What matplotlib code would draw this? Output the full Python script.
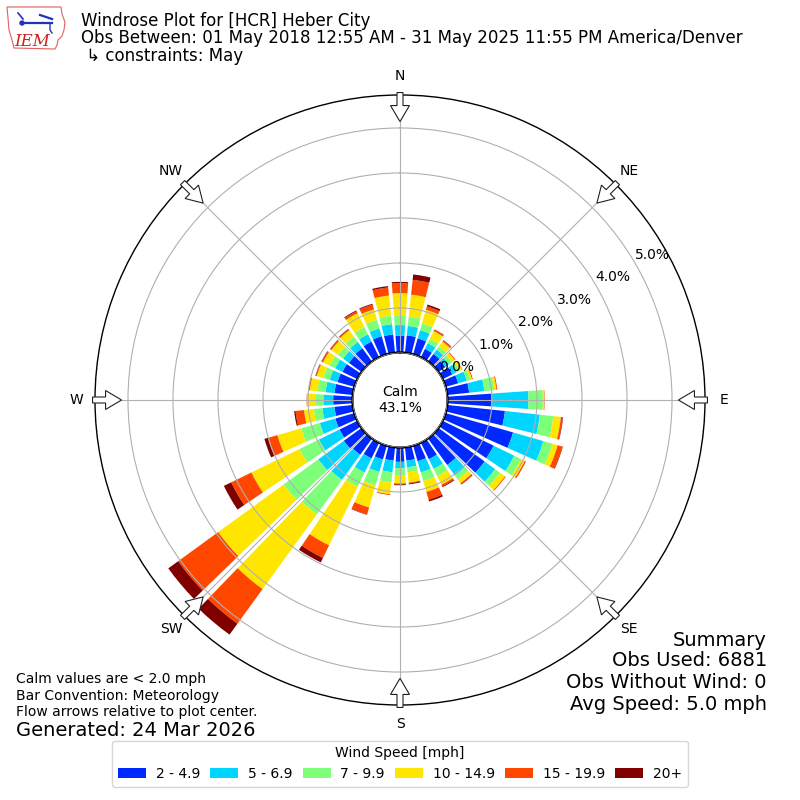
import numpy as np
import matplotlib
matplotlib.use("Agg")
import matplotlib.pyplot as plt
from matplotlib.patches import Circle, FancyArrow, Polygon, Patch
from matplotlib.lines import Line2D

# ---------------- data ----------------
directions = np.arange(0, 360, 10)  # degrees, meteorological convention
speed_bins = ["2 - 4.9", "5 - 6.9", "7 - 9.9", "10 - 14.9", "15 - 19.9", "20+"]

# frequency (%) of each speed bin per direction
pct_2_5 = [0.38, 0.40, 0.38, 0.22, 0.22, 0.20, 0.25, 0.30, 0.50, 0.98, 1.30, 1.57,
           1.27, 1.28, 0.74, 0.42, 0.37, 0.31, 0.33, 0.31, 0.33, 0.40, 0.46, 0.50,
           0.45, 0.45, 0.42, 0.44, 0.42, 0.40, 0.38, 0.36, 0.38, 0.40, 0.43, 0.42]
pct_5_7 = [0.24, 0.21, 0.19, 0.14, 0.12, 0.10, 0.11, 0.20, 0.34, 0.83, 0.78, 0.70,
           0.51, 0.29, 0.29, 0.24, 0.26, 0.15, 0.14, 0.26, 0.29, 0.35, 0.69, 0.70,
           0.51, 0.36, 0.27, 0.22, 0.20, 0.18, 0.18, 0.16, 0.17, 0.18, 0.18, 0.23]
pct_7_10 = [0.22, 0.21, 0.16, 0.11, 0.09, 0.08, 0.07, 0.08, 0.22, 0.32, 0.30, 0.21,
            0.17, 0.14, 0.11, 0.18, 0.20, 0.11, 0.17, 0.23, 0.31, 0.35, 0.95, 0.95,
            0.48, 0.43, 0.19, 0.18, 0.18, 0.15, 0.14, 0.14, 0.15, 0.18, 0.20, 0.19]
pct_10_15 = [0.49, 0.49, 0.31, 0.19, 0.13, 0.08, 0.06, 0.04, 0.05, 0.03, 0.17, 0.12,
             0.09, 0.13, 0.10, 0.21, 0.25, 0.23, 0.17, 0.26, 0.51, 1.45, 2.05, 1.80,
             1.19, 0.55, 0.22, 0.18, 0.17, 0.15, 0.16, 0.18, 0.17, 0.34, 0.24, 0.45]
pct_15_20 = [0.22, 0.33, 0.08, 0.03, 0.03, 0.02, 0.01, 0.02, 0.02, 0.01, 0.04, 0.11,
             0.03, 0.02, 0.03, 0.04, 0.18, 0.02, 0.02, 0.02, 0.16, 0.31, 0.95, 1.10,
             0.50, 0.22, 0.19, 0.01, 0.02, 0.02, 0.03, 0.03, 0.03, 0.05, 0.11, 0.18]
pct_20_up = [0.03, 0.12, 0.04, 0.01, 0.01, 0.00, 0.00, 0.00, 0.00, 0.00, 0.01, 0.01,
             0.00, 0.00, 0.01, 0.02, 0.04, 0.02, 0.02, 0.00, 0.01, 0.11, 0.30, 0.27,
             0.18, 0.08, 0.03, 0.00, 0.01, 0.01, 0.01, 0.01, 0.01, 0.02, 0.02, 0.03]
series = [pct_2_5, pct_5_7, pct_7_10, pct_10_15, pct_15_20, pct_20_up]

calm_pct = 43.1
ring_values = [0, 1, 2, 3, 4, 5]
compass_labels = ["N", "NE", "E", "SE", "S", "SW", "W", "NW"]
compass_angles = np.arange(0, 360, 45)

title_lines = [
    "Windrose Plot for [HCR] Heber City",
    "Obs Between: 01 May 2018 12:55 AM - 31 May 2025 11:55 PM America/Denver",
    " \u21b3 constraints: May",
]
notes = ["Calm values are < 2.0 mph", "Bar Convention: Meteorology",
         "Flow arrows relative to plot center."]
generated = "Generated: 24 Mar 2026"
summary = ["Summary", "Obs Used: 6881", "Obs Without Wind: 0", "Avg Speed: 5.0 mph"]

# ---------------- figure ----------------
W = H = 800
fig = plt.figure(figsize=(8, 8), dpi=100)


def fx(px):
    return px / W


def fy(py):
    return 1 - py / H


ax = fig.add_axes([0.11875, 0.11875, 0.7625, 0.7625], projection="polar")
ax.set_theta_zero_location("N")
ax.set_theta_direction(-1)
R0 = 47.0 / 45.0
RMAX = 5.733
ax.set_ylim(0, RMAX)
ax.set_rorigin(-R0)

colors = plt.cm.jet(np.linspace(0, 1, 7)[1:])
theta = np.deg2rad(directions)
width = np.deg2rad(10) * 0.8
bottom = np.zeros(len(directions))
for vals, col in zip(series, colors):
    vals = np.asarray(vals)
    ax.bar(theta, vals, width=width, bottom=bottom, color=col, linewidth=0,
           align="center", zorder=1)
    bottom = bottom + vals

ax.set_xticks(np.deg2rad(compass_angles))
ax.set_xticklabels([])
ax.set_yticks(ring_values)
ax.set_yticklabels([])
ax.tick_params(length=0)
ax.grid(True, color="#b0b0b0", linewidth=0.8)
ax.spines["polar"].set_linewidth(1.0)
try:
    ax.spines["inner"].set_visible(False)
except Exception:
    pass

# radial labels
for v in ring_values:
    ax.text(np.deg2rad(60), v + 0.42, f"{v:.1f}%", ha="center", va="center",
            fontsize=10, zorder=10)

# calm circle
ax.add_patch(Circle((0.5, 0.5), 48.0 / 610.0, transform=ax.transAxes,
                    facecolor="white", edgecolor="black", linewidth=1.0, zorder=5))
ax.text(0.5, 0.5, f"Calm\n{calm_pct:.1f}%", transform=ax.transAxes,
        ha="center", va="center", fontsize=10, zorder=6)

# compass labels and flow arrows
for lab, ang in zip(compass_labels, compass_angles):
    a = np.deg2rad(ang)
    s, c = np.sin(a), np.cos(a)
    ax.text(0.5 + 0.5 * 1.062 * s, 0.5 + 0.5 * 1.062 * c, lab, transform=ax.transAxes,
            ha="center", va="center", fontsize=10)
    r_tail = 0.5 * 1.008
    length = 29.0 / 610.0
    arr = FancyArrow(0.5 + r_tail * s, 0.5 + r_tail * c, -length * s, -length * c,
                     width=6.0 / 610.0, head_width=19.0 / 610.0,
                     head_length=16.0 / 610.0, length_includes_head=True,
                     transform=ax.transAxes, facecolor="white", edgecolor="#222222",
                     linewidth=0.8, clip_on=False, zorder=8)
    ax.add_patch(arr)

# titles
for i, (line, ypx) in enumerate(zip(title_lines, [26, 43, 61])):
    fig.text(fx(81), fy(ypx), line, fontsize=12, ha="left", va="baseline")

# IEM logo (approximation)
iowa = [(7, 7), (61, 7), (62, 14), (65, 22), (64, 30), (62, 36), (58, 40),
        (57, 45), (55, 49), (14, 48), (12, 40), (9, 30), (8, 18)]
fig.add_artist(Polygon([(fx(x), fy(y)) for x, y in iowa], closed=True,
                       transform=fig.transFigure, fill=False,
                       edgecolor="#e06060", linewidth=0.8))
fig.add_artist(Line2D([fx(22), fx(52)], [fy(23), fy(23)], transform=fig.transFigure,
                      color="#2233bb", linewidth=1.6))
fig.add_artist(Line2D([fx(18), fx(23)], [fy(13), fy(19)], transform=fig.transFigure,
                      color="#2233bb", linewidth=1.2))
fig.add_artist(Line2D([fx(40), fx(52)], [fy(15), fy(19)], transform=fig.transFigure,
                      color="#2233bb", linewidth=1.6))
fig.add_artist(Line2D([fx(50), fx(50), fx(52)], [fy(23), fy(30), fy(33)],
                      transform=fig.transFigure, color="#2233bb", linewidth=1.0))
fig.add_artist(Circle((fx(22), fy(23)), 2.0 / W, transform=fig.transFigure,
                      color="#2233bb"))
fig.text(fx(14), fy(46), "IEM", fontsize=12, color="#d02020", style="italic",
         family="DejaVu Serif", ha="left", va="baseline")

# notes (bottom-left)
for line, ypx in zip(notes, [679, 696, 712]):
    fig.text(fx(16), fy(ypx), line, fontsize=10, ha="left", va="center")
fig.text(fx(16), fy(730), generated, fontsize=14, ha="left", va="center")

# summary (bottom-right)
for line, ypx in zip(summary, [640, 661, 683, 705]):
    fig.text(fx(767), fy(ypx), line, fontsize=14, ha="right", va="center")

# legend
handles = [Patch(facecolor=c, edgecolor="none") for c in colors]
fig.legend(handles, speed_bins, loc="lower center", bbox_to_anchor=(0.5, 0.008),
           ncol=6, title="Wind Speed [mph]", fontsize=10, title_fontsize=10,
           columnspacing=0.75, handletextpad=0.7)

fig.savefig("out.png", dpi=100)
